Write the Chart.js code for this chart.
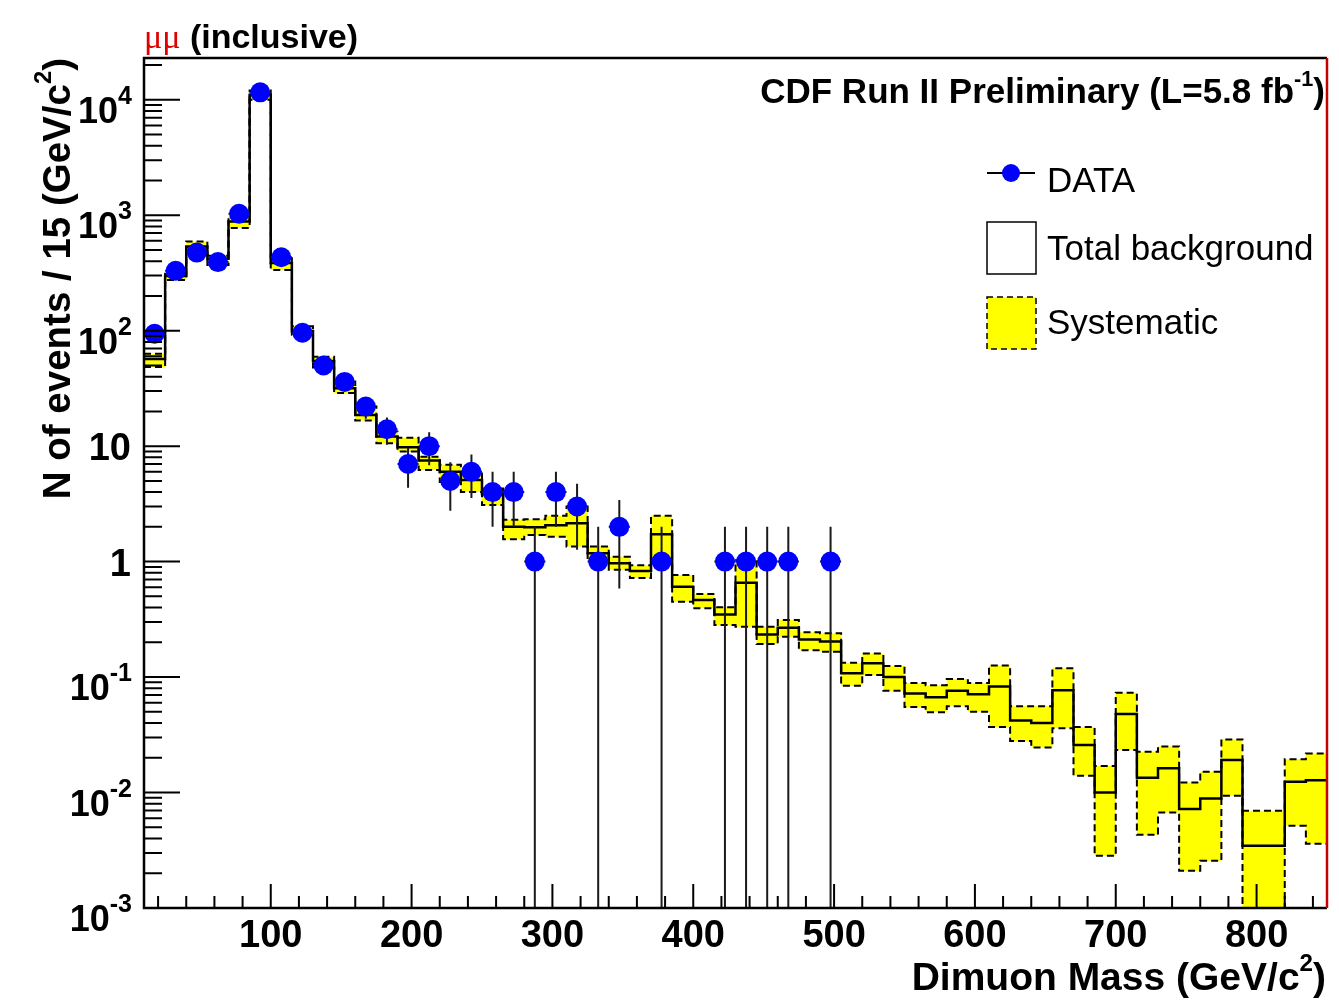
<!DOCTYPE html>
<html>
<head>
<meta charset="utf-8">
<title>Dimuon mass</title>
<script src="https://cdn.jsdelivr.net/npm/chart.js@4.4.1/dist/chart.umd.min.js"></script>
<style>
  html, body { margin: 0; padding: 0; background: #fff; }
  #wrap { width: 1339px; height: 1004px; }
</style>
</head>
<body>
<div id="wrap"><canvas id="massChart" width="1339" height="1004"></canvas></div>
<script>
// mu-mu invariant mass, 15 GeV bins from 10 to 850 GeV
const binEdges = [10, 25, 40, 55, 70, 85, 100, 115, 130, 145, 160, 175, 190, 205, 220, 235, 250, 265, 280, 295,
  310, 325, 340, 355, 370, 385, 400, 415, 430, 445, 460, 475, 490, 505, 520, 535, 550, 565, 580, 595,
  610, 625, 640, 655, 670, 685, 700, 715, 730, 745, 760, 775, 790, 805, 820, 835, 850];

// observed events per bin (0 = nothing drawn)
const dataCounts = [94, 330, 475, 393, 1030, 11600, 433, 96, 50, 36,
  22, 14, 7, 10, 5, 6, 4, 4, 1, 4,
  3, 1, 2, 0, 1, 0, 0, 1, 1, 1,
  1, 0, 1, 0, 0, 0, 0, 0, 0, 0,
  0, 0, 0, 0, 0, 0, 0, 0, 0, 0,
  0, 0, 0, 0, 0, 0];

// total background prediction
const bkgTotal = [57, 298, 536, 420, 883, 11050, 385, 99, 54.7, 31.8,
  18.6, 12.1, 9.8, 7.5, 6.0, 5.1, 3.86, 2.0, 1.98, 2.07,
  2.15, 1.18, 0.97, 0.83, 1.73, 0.605, 0.464, 0.349, 0.656, 0.234,
  0.268, 0.212, 0.203, 0.108, 0.132, 0.10, 0.072, 0.067, 0.076, 0.071,
  0.083, 0.042, 0.040, 0.077, 0.0258, 0.010, 0.048, 0.0134, 0.0162, 0.0072,
  0.0089, 0.0191, 0.00346, 0.00346, 0.0124, 0.0128];

// systematic band, upper and lower edge
const bkgSysUp = [63, 312, 593, 445, 977, 12050, 425, 109, 59.5, 36.3,
  22, 13.4, 11.8, 8.1, 6.9, 5.8, 4.3, 2.3, 2.33, 2.5,
  3.0, 1.35, 1.1, 0.93, 2.5, 0.766, 0.524, 0.403, 1.03, 0.273,
  0.312, 0.244, 0.24, 0.133, 0.16, 0.125, 0.089, 0.085, 0.096, 0.089,
  0.126, 0.056, 0.056, 0.119, 0.037, 0.017, 0.073, 0.0225, 0.025, 0.0122,
  0.0151, 0.0288, 0.00695, 0.00695, 0.0194, 0.0218];

const bkgSysDown = [48.5, 275, 486, 370, 774, 10000, 336, 92, 48, 28.8,
  16.7, 10.6, 9.0, 6.2, 4.9, 4.0, 3.1, 1.56, 1.70, 1.64,
  1.35, 1.03, 0.85, 0.72, 1.03, 0.45, 0.394, 0.282, 0.273, 0.193,
  0.224, 0.171, 0.166, 0.084, 0.104, 0.076, 0.055, 0.0495, 0.056, 0.05,
  0.037, 0.028, 0.0246, 0.036, 0.014, 0.00283, 0.0233, 0.0043, 0.0067, 0.0021,
  0.00256, 0.0094, 0.0004, 0.0004, 0.00515, 0.0036];

// axis ticks
const xMajorTicks = [100, 200, 300, 400, 500, 600, 700, 800];
const xLabels = ['100', '200', '300', '400', '500', '600', '700', '800'];
const yDecades = [1e-3, 1e-2, 1e-1, 1, 10, 1e2, 1e3, 1e4];
const yLabelBase = ['10', '10', '10', '1', '10', '10', '10', '10'];
const yLabelExp = ['-3', '-2', '-1', '', '', '2', '3', '4'];

const X_MIN = 10, X_MAX = 850, Y_MIN = 1e-3, Y_MAX = 2.3e4;

// histogram outline: one point per left bin edge plus the closing edge
function stepPoints(values) {
  const pts = values.map((v, i) => ({ x: binEdges[i], y: v }));
  pts.push({ x: binEdges[binEdges.length - 1], y: values[values.length - 1] });
  return pts;
}

const dataPoints = [];
dataCounts.forEach((n, i) => {
  if (n > 0) dataPoints.push({ x: (binEdges[i] + binEdges[i + 1]) / 2, y: n, lo: binEdges[i], hi: binEdges[i + 1] });
});

const sans = (s, w) => `${w || 'bold'} ${s}px "Liberation Sans", Arial, sans-serif`;

// draws text pieces with optional superscripts
function drawRich(ctx, parts, x, y, size, align, weight) {
  const supScale = 0.62, supRaise = 0.5;
  const widths = parts.map(p => {
    ctx.font = sans(p.sup ? size * supScale : size, weight);
    return ctx.measureText(p.text).width;
  });
  const total = widths.reduce((a, b) => a + b, 0);
  let cx = align === 'right' ? x - total : (align === 'center' ? x - total / 2 : x);
  ctx.textAlign = 'left';
  ctx.textBaseline = 'alphabetic';
  parts.forEach((p, i) => {
    ctx.font = sans(p.sup ? size * supScale : size, weight);
    ctx.fillText(p.text, cx, p.sup ? y - size * supRaise : y);
    cx += widths[i];
  });
}

const decorations = {
  id: 'decorations',
  // statistical error bars go under the markers
  beforeDatasetDraw(chart, args) {
    if (args.index !== 0) return;
    const ctx = chart.ctx, area = chart.chartArea;
    const xs = chart.scales.x, ys = chart.scales.y;
    ctx.save();
    ctx.beginPath();
    ctx.rect(area.left, area.top, area.right - area.left, area.bottom - area.top);
    ctx.clip();
    ctx.strokeStyle = '#1a1a1a';
    ctx.lineWidth = 2;
    dataPoints.forEach(p => {
      const err = Math.sqrt(p.y);
      const px = xs.getPixelForValue(p.x);
      const py = ys.getPixelForValue(p.y);
      const top = ys.getPixelForValue(p.y + err);
      const bot = p.y - err > 0 ? ys.getPixelForValue(p.y - err) : area.bottom;
      ctx.beginPath();
      ctx.moveTo(px, top);
      ctx.lineTo(px, bot);
      ctx.moveTo(xs.getPixelForValue(p.lo), py);
      ctx.lineTo(xs.getPixelForValue(p.hi), py);
      ctx.stroke();
    });
    ctx.restore();
  },
  afterDraw(chart) {
    const ctx = chart.ctx, area = chart.chartArea;
    const xs = chart.scales.x, ys = chart.scales.y;
    ctx.save();
    ctx.fillStyle = '#000';
    ctx.strokeStyle = '#000';

    // frame
    ctx.lineWidth = 2.5;
    ctx.beginPath();
    ctx.moveTo(area.right, area.top);
    ctx.lineTo(area.left, area.top);
    ctx.lineTo(area.left, area.bottom);
    ctx.lineTo(area.right, area.bottom);
    ctx.stroke();
    ctx.strokeStyle = '#c40000';
    ctx.beginPath();
    ctx.moveTo(area.right, area.top);
    ctx.lineTo(area.right, area.bottom);
    ctx.stroke();

    // x ticks, drawn inwards
    ctx.strokeStyle = '#000';
    ctx.lineWidth = 2;
    ctx.beginPath();
    for (let v = 20; v < X_MAX; v += 20) {
      const px = xs.getPixelForValue(v);
      const len = v % 100 === 0 ? 24 : 12;
      ctx.moveTo(px, area.bottom);
      ctx.lineTo(px, area.bottom - len);
    }
    // y ticks: decades and 2..9 subdivisions
    yDecades.forEach(d => {
      for (let k = 1; k <= 9; k++) {
        const v = d * k;
        if (v > Y_MAX) break;
        const py = ys.getPixelForValue(v);
        ctx.moveTo(area.left, py);
        ctx.lineTo(area.left + (k === 1 ? 36 : 18), py);
      }
    });
    ctx.stroke();

    // x tick labels
    xMajorTicks.forEach((v, i) => {
      drawRich(ctx, [{ text: xLabels[i] }], xs.getPixelForValue(v), 947, 38, 'center');
    });

    // y tick labels
    yDecades.forEach((d, i) => {
      const py = ys.getPixelForValue(d);
      ctx.textAlign = 'right';
      if (yLabelExp[i]) {
        ctx.font = sans(25);
        const ew = ctx.measureText(yLabelExp[i]).width;
        ctx.fillText(yLabelExp[i], 132, py + 4);
        ctx.font = sans(36);
        ctx.fillText(yLabelBase[i], 132 - ew, py + 23);
      } else {
        ctx.font = sans(38);
        ctx.fillText(yLabelBase[i], 131, py + 14);
      }
    });

    // axis titles
    drawRich(ctx, [{ text: 'Dimuon Mass (GeV/c' }, { text: '2', sup: true }, { text: ')' }], 1326, 990, 39, 'right');
    ctx.save();
    ctx.translate(70, 58);
    ctx.rotate(-Math.PI / 2);
    drawRich(ctx, [{ text: 'N of events / 15 (GeV/c' }, { text: '2', sup: true }, { text: ')' }], 0, 0, 38.5, 'right');
    ctx.restore();

    // channel label
    ctx.font = '34px "Liberation Serif", serif';
    ctx.fillStyle = '#e00000';
    ctx.textAlign = 'left';
    ctx.fillText('\u03bc\u03bc', 144, 48);
    const muW = ctx.measureText('\u03bc\u03bc').width;
    ctx.fillStyle = '#000';
    drawRich(ctx, [{ text: ' (inclusive)' }], 144 + muW, 48, 34, 'left');

    drawRich(ctx, [{ text: 'CDF Run II Preliminary (L=5.8 fb' }, { text: '-1', sup: true }, { text: ')' }], 1325, 103, 35, 'right');

    // legend
    ctx.lineWidth = 2;
    ctx.beginPath();
    ctx.moveTo(987, 173);
    ctx.lineTo(1035, 173);
    ctx.stroke();
    ctx.fillStyle = '#0000ff';
    ctx.beginPath();
    ctx.arc(1011, 173, 9, 0, Math.PI * 2);
    ctx.fill();

    ctx.lineWidth = 1.5;
    ctx.strokeRect(987, 222, 49, 52);

    ctx.fillStyle = '#ffff00';
    ctx.fillRect(987, 297, 49, 52);
    ctx.setLineDash([6, 4]);
    ctx.strokeRect(987, 297, 49, 52);
    ctx.setLineDash([]);

    ctx.fillStyle = '#000';
    drawRich(ctx, [{ text: 'DATA' }], 1047, 192, 35, 'left', 'normal');
    drawRich(ctx, [{ text: 'Total background' }], 1047, 260, 35, 'left', 'normal');
    drawRich(ctx, [{ text: 'Systematic' }], 1047, 334, 35, 'left', 'normal');
    ctx.restore();
  }
};

const ctx = document.getElementById('massChart');
new Chart(ctx, {
  type: 'line',
  data: {
    datasets: [
      {
        label: 'DATA',
        data: dataPoints,
        showLine: false,
        pointRadius: 10,
        pointBackgroundColor: '#0000ff',
        pointBorderWidth: 0,
        order: 0
      },
      {
        label: 'Total background',
        data: stepPoints(bkgTotal),
        stepped: true,
        borderColor: '#000',
        borderWidth: 2.5,
        pointRadius: 0,
        fill: false,
        order: 1
      },
      {
        label: 'Systematic low',
        data: stepPoints(bkgSysDown),
        stepped: true,
        borderColor: '#000',
        borderWidth: 2,
        borderDash: [7, 4],
        pointRadius: 0,
        fill: false,
        order: 2
      },
      {
        label: 'Systematic',
        data: stepPoints(bkgSysUp),
        stepped: true,
        borderColor: '#000',
        borderWidth: 2,
        borderDash: [7, 4],
        backgroundColor: '#ffff00',
        pointRadius: 0,
        fill: '-1',
        order: 3
      }
    ]
  },
  options: {
    responsive: false,
    animation: false,
    events: [],
    layout: { padding: { left: 144, right: 12, top: 58, bottom: 96 } },
    scales: {
      x: { type: 'linear', min: X_MIN, max: X_MAX, display: false },
      y: { type: 'logarithmic', min: Y_MIN, max: Y_MAX, display: false }
    },
    plugins: {
      legend: { display: false },
      tooltip: { enabled: false }
    }
  },
  plugins: [decorations]
});
</script>
</body>
</html>
